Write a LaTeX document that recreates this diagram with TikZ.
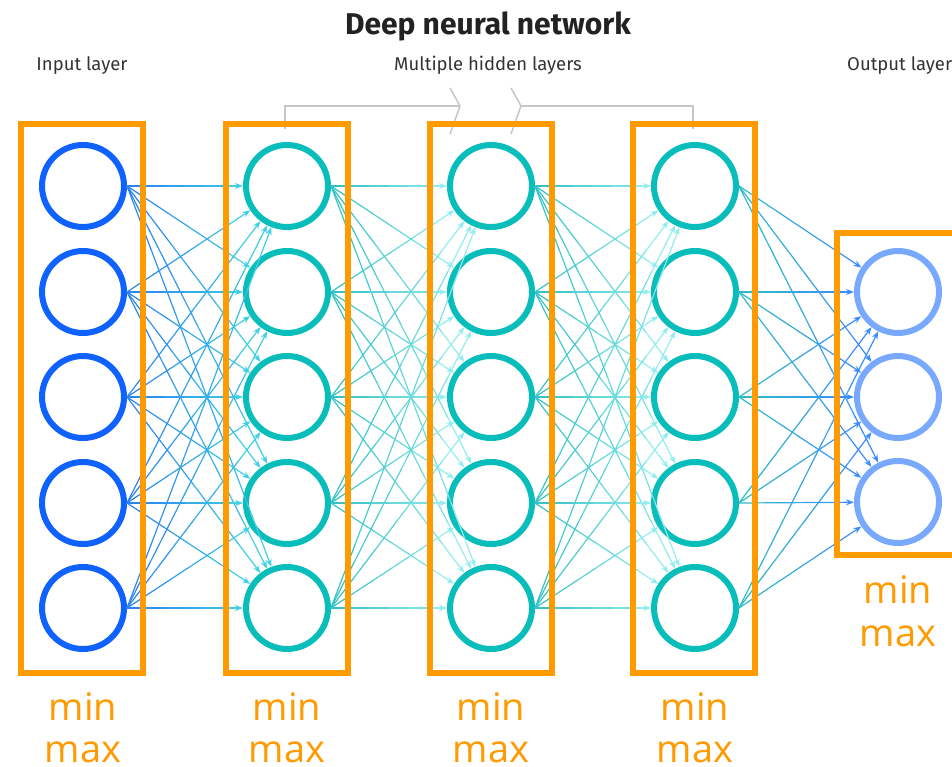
\documentclass[tikz,border=0pt]{standalone}
\usepackage{fontspec}
\setmainfont{Fira Sans}
\newfontfamily\headfont{Fira Sans}
\newfontfamily\mmfont{Open Sans}
\usetikzlibrary{arrows.meta,calc}

\definecolor{inblue}{HTML}{0F62FE}
\definecolor{hidteal}{HTML}{08BDBA}
\definecolor{outblue}{HTML}{78A9FF}
\definecolor{boxorange}{HTML}{FF9A00}
\definecolor{edgeA}{HTML}{2A7DF2}
\definecolor{edgeB}{HTML}{3FD0E3}
\definecolor{edgeC}{HTML}{2DBFC3}
\definecolor{edgeD}{HTML}{93EDEE}
\definecolor{edgeE}{HTML}{3C8CFF}
\definecolor{titlegray}{HTML}{222222}
\definecolor{labelgray}{HTML}{333333}
\definecolor{brgray}{HTML}{C6C6C6}

% connector from #1 to #2, shaded from colour #3 to colour #4
\newcommand\gradedge[4]{%
  \coordinate (ge-s) at (#1.east);
  \coordinate (ge-t) at ($(#2.center)!44pt!(ge-s)$);
  \foreach \k in {1,...,5}{%
    \pgfmathsetmacro\ka{(\k-1)/6}%
    \pgfmathsetmacro\kb{\k/6}%
    \pgfmathtruncatemacro\pc{100-(\k-0.5)*100/6}%
    \draw[edge, color=#3!\pc!#4] ($(ge-s)!\ka!(ge-t)$) -- ($(ge-s)!\kb!(ge-t)$);
  }%
  \draw[edge, tip, color=#4] ($(ge-s)!0.8333!(ge-t)$) -- (ge-t);
}

\begin{document}
\begin{tikzpicture}[x=1pt,y=-1pt,
  neuron/.style={circle, minimum size=82pt, inner sep=0pt, line width=6pt, fill=white},
  layerbox/.style={draw=boxorange, line width=6pt, minimum width=122pt, inner sep=0pt},
  edge/.style={line width=1.2pt, line cap=round},
  tip/.style={-{Stealth[length=8pt,width=6pt]}},
  mm/.style={font=\mmfont\fontsize{38}{38}\selectfont, text=boxorange, anchor=base, inner sep=0pt},
  layertitle/.style={font=\headfont\fontsize{18.5}{18.5}\selectfont, text=labelgray, inner sep=0pt, anchor=base},
  bracket/.style={draw=brgray, line width=1.5pt}
]
\path[use as bounding box] (0,0) rectangle (952,767);
\clip (0,0) rectangle (952,767);

% headings
\node[font=\headfont\bfseries\fontsize{30}{30}\selectfont, text=titlegray, inner sep=0pt, anchor=base] (title) at (488,35) {Deep neural network};
\node[layertitle] (lin) at (82,71) {Input layer};
\node[layertitle] (lhid) at (488,71) {Multiple hidden layers};
\node[layertitle, anchor=base west] (lout) at (847,71) {Output layer};

% bracket over the hidden layers, with a break
\coordinate (bl) at (285,129);
\coordinate (br) at (693,129);
\draw[bracket] (bl) -- (285,106) -- (460,106);
\draw[bracket] (450,88) -- (460,106) -- (450,134);
\draw[bracket] (511,88) -- (521,106) -- (511,134);
\draw[bracket] (521,106) -- (693,106) -- (br);

% neurons
\foreach \i/\y in {1/186,2/292,3/397,4/503,5/608} {
  \node[neuron, draw=inblue] (a\i) at (83,\y) {};
  \node[neuron, draw=hidteal] (b\i) at (287,\y) {};
  \node[neuron, draw=hidteal] (c\i) at (491,\y) {};
  \node[neuron, draw=hidteal] (d\i) at (695,\y) {};
}
\foreach \i/\y in {1/292,2/397,3/502}
  \node[neuron, draw=outblue] (e\i) at (898,\y) {};

% weights
\foreach \i in {1,...,5}{
  \foreach \j in {1,...,5}{
    \gradedge{a\i}{b\j}{edgeA}{edgeB}
    \gradedge{b\i}{c\j}{edgeC}{edgeD}
    \gradedge{c\i}{d\j}{edgeC}{edgeD}
  }
  \foreach \j in {1,2,3}{
    \gradedge{d\i}{e\j}{edgeC}{edgeE}
  }
}

% layer frames
\node[layerbox, minimum height=549pt] (fa) at (82,398.5) {};
\node[layerbox, minimum height=549pt] (fb) at (287,398.5) {};
\node[layerbox, minimum height=549pt] (fc) at (491,398.5) {};
\node[layerbox, minimum height=549pt] (fd) at (694,398.5) {};
\node[layerbox, minimum height=321pt] (fe) at (898,394) {};

% range labels
\foreach \n/\x in {a/83,b/287,c/491,d/695}{
  \node[mm] (\n min) at (\x,720) {min};
  \node[mm] (\n max) at (\x,762) {max};
}
\node[mm] (emin) at (898,603) {min};
\node[mm] (emax) at (898,646) {max};
\end{tikzpicture}
\end{document}
